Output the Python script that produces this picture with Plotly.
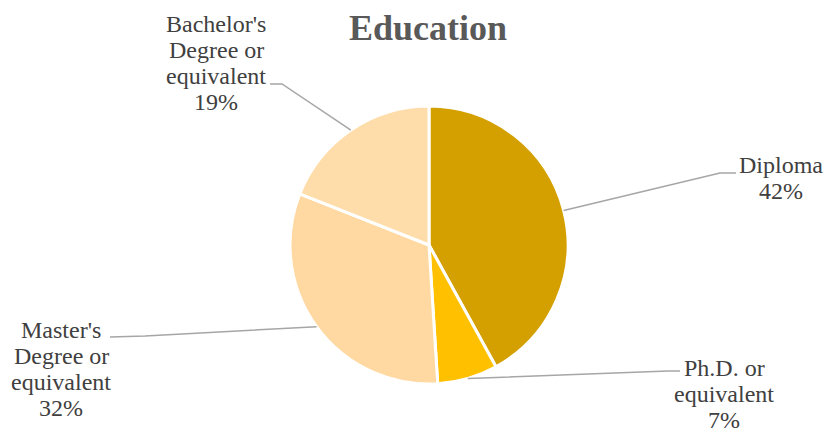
import math
import textwrap
import plotly.graph_objects as go

# ---- data ----
categories = ["Diploma", "Ph.D. or equivalent", "Master's Degree or equivalent", "Bachelor's Degree or equivalent"]
values = [42, 7, 32, 19]
colors = ["#D4A000", "#FFC000", "#FFD9A1", "#FFDDAA"]
title_text = "Education"

# ---- layout config (pixels) ----
W, H = 829, 433
CX, CY, R = 429, 245, 139
FONT = "Liberation Serif"
LABEL_SIZE = 24
LINE_STEP = 26
# label centre x, first-line baseline, elbow point, horizontal end of leader
label_cfg = [
    dict(tx=781, base=173, elbow=(720, 173), end=(736, 173)),
    dict(tx=724, base=376, elbow=(668, 371), end=(680, 371)),
    dict(tx=61, base=338, elbow=(145, 336), end=(110, 337)),
    dict(tx=216, base=32, elbow=(282, 84), end=(270, 84)),
]

def px(x):
    return x / W

def py(y):
    return 1 - y / H

fig = go.Figure()
fig.add_trace(go.Pie(
    labels=categories,
    values=values,
    sort=False,
    direction="clockwise",
    rotation=0,
    marker=dict(colors=colors, line=dict(color="white", width=3)),
    textinfo="none",
    hoverinfo="label+percent",
    showlegend=False,
    domain=dict(x=[px(CX - R), px(CX + R)], y=[py(CY + R), py(CY - R)]),
))

total = sum(values)
cum = 0
shapes = []
annotations = []
for cat, v, cfg in zip(categories, values, label_cfg):
    mid = (cum + v / 2) / total * 2 * math.pi
    cum += v
    sx = CX + R * math.sin(mid)
    sy = CY - R * math.cos(mid)
    ex, ey = cfg["elbow"]
    hx, hy = cfg["end"]
    path = f"M {px(sx)},{py(sy)} L {px(ex)},{py(ey)} L {px(hx)},{py(hy)}"
    shapes.append(dict(type="path", xref="paper", yref="paper", path=path,
                       line=dict(color="#A6A6A6", width=1.5)))
    lines = textwrap.wrap(cat, width=10)
    pct = round(v / total * 100)
    for i, line in enumerate(lines + [f"{pct}%"]):
        baseline = cfg["base"] + i * LINE_STEP
        annotations.append(dict(
            x=px(cfg["tx"]), y=py(baseline - 0.33 * LABEL_SIZE), xref="paper", yref="paper",
            text=line, showarrow=False, xanchor="center", yanchor="middle", align="center",
            font=dict(family=FONT, size=LABEL_SIZE, color="#404040"),
        ))

annotations.append(dict(
    x=px(428), y=py(28), xref="paper", yref="paper", text=f"<b>{title_text}</b>",
    showarrow=False, xanchor="center", yanchor="middle",
    font=dict(family=FONT, size=36, color="#595959"),
))

fig.update_layout(
    width=W, height=H,
    margin=dict(l=0, r=0, t=0, b=0),
    paper_bgcolor="white", plot_bgcolor="white",
    shapes=shapes, annotations=annotations,
)

fig.write_html("out.html")
